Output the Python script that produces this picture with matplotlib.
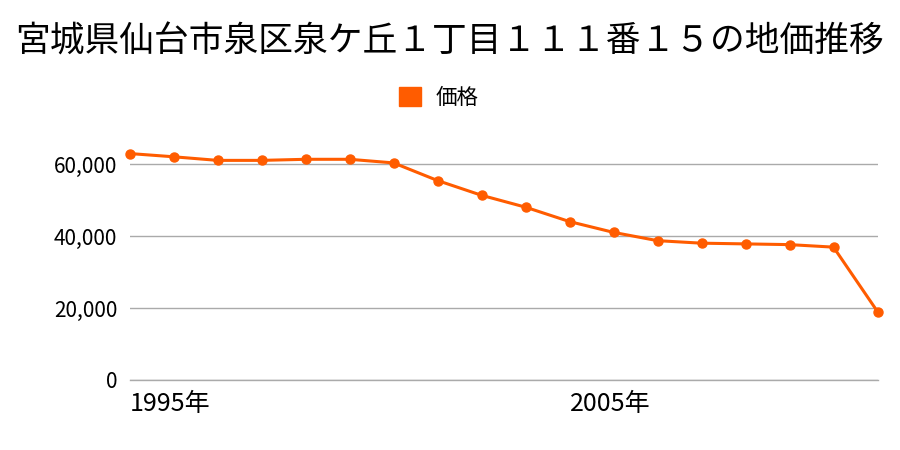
import matplotlib
matplotlib.use("Agg")
import matplotlib.pyplot as plt
from matplotlib.ticker import FuncFormatter

plt.rcParams['font.family'] = ['Noto Sans CJK JP', 'DejaVu Sans']

# --- data ---
years = list(range(1995, 2013))
prices = [62900, 62000, 61000, 61000, 61300, 61300, 60300, 55400, 51300,
          48000, 44000, 41000, 38700, 38000, 37800, 37600, 36900, 19000]
xtick_years = [1995, 2005]
ytick_values = [0, 20000, 40000, 60000]

title = "宮城県仙台市泉区泉ケ丘１丁目１１１番１５の地価推移"
series_name = "価格"
color = "#ff5c00"

fig = plt.figure(figsize=(9, 4.5), dpi=100)
fig.patch.set_facecolor("white")
ax = fig.add_axes([0.144, 0.1556, 0.831, 0.56])

ax.plot(years, prices, color=color, linewidth=2.2, marker="o",
        markersize=6.5, label=series_name, zorder=3, clip_on=False)

ax.set_xlim(years[0], years[-1])
ax.set_ylim(0, 70000)
ax.set_yticks(ytick_values)
ax.yaxis.set_major_formatter(FuncFormatter(lambda v, p: f"{int(v):,}"))
ax.set_xticks(xtick_years)
ax.set_xticklabels([f"{y}年" for y in xtick_years], ha="left")

ax.grid(axis="y", color="#aaaaaa", linewidth=1)
ax.axhline(0, color="#aaaaaa", linewidth=1, clip_on=False, zorder=1)
ax.set_axisbelow(True)
for s in ax.spines.values():
    s.set_visible(False)
ax.tick_params(length=0, colors="black")
ax.tick_params(axis="y", pad=9, labelsize=15)
ax.tick_params(axis="x", pad=8, labelsize=18)

fig.text(0.5, 0.907, title, ha="center", va="center", fontsize=25)

# legend as a square marker + label
ax.legend(loc="center", bbox_to_anchor=(0.488, 0.783), bbox_transform=fig.transFigure,
          frameon=False, fontsize=15.5, handlelength=1.0, handleheight=1.0,
          handles=[plt.Rectangle((0, 0), 1, 1, color=color)], labels=[series_name],
          handletextpad=0.7)

fig.savefig("out.png", dpi=100, facecolor="white")
